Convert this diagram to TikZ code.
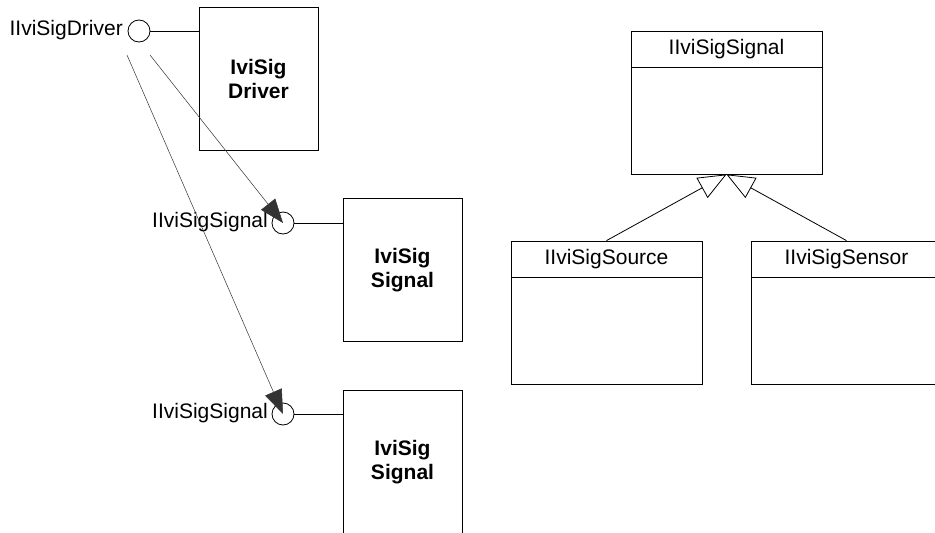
\documentclass[tikz,border=0pt]{standalone}
\usepackage{fontspec}
\setmainfont{Liberation Sans}
\usetikzlibrary{arrows.meta,calc}

\begin{document}
\begin{tikzpicture}[x=1pt,y=-1pt]
    % Define styles
    \tikzset{
        comp/.style={draw, line width=0.8pt, minimum width=119pt, minimum height=143pt,
            align=center, font=\fontsize{21}{24}\selectfont\bfseries},
        lolly/.style={draw, circle, line width=0.8pt, minimum size=22pt, inner sep=0pt, fill=white},
        iname/.style={anchor=east, inner sep=0pt, font=\fontsize{21}{24}\selectfont},
        classbox/.style={draw, line width=0.8pt, minimum width=191pt, minimum height=143pt},
        classhead/.style={draw, line width=0.8pt, anchor=north, minimum width=191pt,
            minimum height=36pt, inner sep=0pt, font=\fontsize{21}{24}\selectfont},
        uses/.style={line width=0.5pt, black!80, -{Triangle[length=24pt,width=18pt]}},
        inherit/.style={line width=0.8pt, -{Triangle[open,length=28pt,width=23pt,fill=white]}}
    }
    
    % Fix the page size
    \useasboundingbox (0,0) rectangle (935,533);
    \clip (0,0) rectangle (935,533);
    
    % Draw components
    \node[comp] (drvbox) at (258.5,78.5) {IviSig\\Driver};
    \node[comp] (sigbox1) at (402.5,270) {IviSig\\Signal};
    \node[comp] (sigbox2) at (402.5,462) {IviSig\\Signal};
    
    % Draw interface lollipops
    \node[lolly] (drvlol) at (139,31) {};
    \node[lolly] (siglol1) at (283,223) {};
    \node[lolly] (siglol2) at (283,414) {};
    \draw[line width=0.8pt] (drvlol.east) -- (drvlol -| drvbox.west);
    \draw[line width=0.8pt] (siglol1.east) -- (siglol1 -| sigbox1.west);
    \draw[line width=0.8pt] (siglol2.east) -- (siglol2 -| sigbox2.west);
    
    % Add interface names
    \node[iname] (drvlbl) at (123,30) {IIviSigDriver};
    \node[iname] (siglbl1) at (268,222) {IIviSigSignal};
    \node[iname] (siglbl2) at (268,413) {IIviSigSignal};
    
    % Draw usage arrows
    \coordinate (drvout1) at ($(drvlol.center)+(11,24)$);
    \coordinate (drvout2) at ($(drvlol.center)+(-12,24)$);
    \draw[uses] (drvout1) -- (siglol1.center);
    \draw[uses] (drvout2) -- (siglol2.center);
    
    % Draw class hierarchy
    \node[classbox] (csig) at (726.5,102.5) {};
    \node[classhead] (csighead) at (csig.north) {IIviSigSignal};
    \node[classbox] (csrc) at (606.5,312.5) {};
    \node[classhead] (csrchead) at (csrc.north) {IIviSigSource};
    \node[classbox] (csen) at (846.5,312.5) {};
    \node[classhead] (csenhead) at (csen.north) {IIviSigSensor};
    
    % Draw inheritance
    \draw[inherit] (csrc.north) -- (csig.south);
    \draw[inherit] (csen.north) -- (csig.south);
\end{tikzpicture}
\end{document}
